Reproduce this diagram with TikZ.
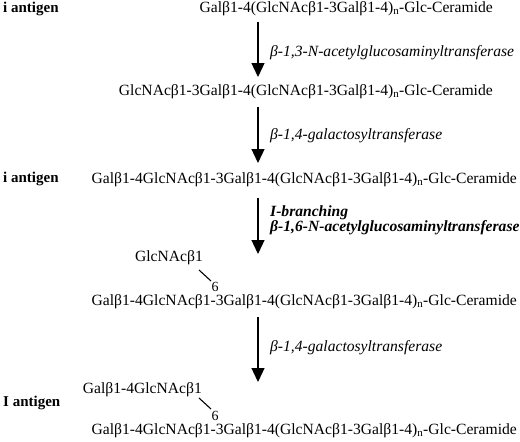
\documentclass[tikz,border=0pt]{standalone}
\usepackage{fontspec}
\setmainfont{Liberation Serif}
\usetikzlibrary{arrows.meta}
\newcommand{\bet}{β}
\newcommand{\subn}{\textsubscript{n}}
\begin{document}
\begin{tikzpicture}[x=1pt,y=-1pt,
  txt/.style={inner sep=0pt,font=\fontsize{15.6}{18}\selectfont},
  six/.style={inner sep=0pt,font=\fontsize{14}{16}\selectfont},
  lab/.style={txt,font=\fontsize{15}{18}\selectfont\bfseries},
  enz/.style={txt,anchor=west,font=\fontsize{15.6}{18}\selectfont\itshape},
  enzb/.style={txt,anchor=west,font=\fontsize{15.6}{18}\selectfont\bfseries\itshape},
  rxn/.style={line width=1.3pt,-{Triangle[width=13pt,length=14pt]}},
  link/.style={line width=1.1pt}]
\useasboundingbox (0,0) rectangle (520,442);
% row 1
\node[lab,anchor=west] (l1) at (3,9) {i antigen};
\node[txt,anchor=east] (c1) at (493,9) {Gal\bet1-4(GlcNAc\bet1-3Gal\bet1-4)\subn-Glc-Ceramide};
\coordinate (a1s) at (258,22);
\coordinate (a1e) at (258,77);
\draw[rxn] (a1s) -- (a1e);
\node[enz] (e1) at (270,53) {\bet-1,3-N-acetylglucosaminyltransferase};
% row 2
\node[txt,anchor=east] (c2) at (493,92) {GlcNAc\bet1-3Gal\bet1-4(GlcNAc\bet1-3Gal\bet1-4)\subn-Glc-Ceramide};
\coordinate (a2s) at (258,107);
\coordinate (a2e) at (258,163);
\draw[rxn] (a2s) -- (a2e);
\node[enz] (e2) at (270,136) {\bet-1,4-galactosyltransferase};
% row 3
\node[lab,anchor=west] (l3) at (3,179) {i antigen};
\node[txt,anchor=east] (c3) at (517,180) {Gal\bet1-4GlcNAc\bet1-3Gal\bet1-4(GlcNAc\bet1-3Gal\bet1-4)\subn-Glc-Ceramide};
\coordinate (a3s) at (258,198);
\coordinate (a3e) at (258,254);
\draw[rxn] (a3s) -- (a3e);
\node[enzb] (e3a) at (270,213) {I-branching};
\node[enzb] (e3b) at (270,228) {\bet-1,6-N-acetylglucosaminyltransferase};
% row 4
\node[txt,anchor=east] (b4) at (203,258) {GlcNAc\bet1};
\node[six] (s4) at (215,286.5) {6};
\coordinate (k4a) at (199,270);
\coordinate (k4b) at (211,281);
\draw[link] (k4a) -- (k4b);
\node[txt,anchor=east] (c4) at (517,302) {Gal\bet1-4GlcNAc\bet1-3Gal\bet1-4(GlcNAc\bet1-3Gal\bet1-4)\subn-Glc-Ceramide};
\coordinate (a4s) at (258,317);
\coordinate (a4e) at (258,382);
\draw[rxn] (a4s) -- (a4e);
\node[enz] (e4) at (270,348) {\bet-1,4-galactosyltransferase};
% row 5
\node[lab,anchor=west] (l5) at (3,403) {I antigen};
\node[txt,anchor=east] (b5) at (202,390) {Gal\bet1-4GlcNAc\bet1};
\coordinate (k5a) at (199,398);
\coordinate (k5b) at (211,409);
\draw[link] (k5a) -- (k5b);
\node[six] (s5) at (215,415.5) {6};
\node[txt,anchor=east] (c5) at (517,431) {Gal\bet1-4GlcNAc\bet1-3Gal\bet1-4(GlcNAc\bet1-3Gal\bet1-4)\subn-Glc-Ceramide};
\end{tikzpicture}
\end{document}
